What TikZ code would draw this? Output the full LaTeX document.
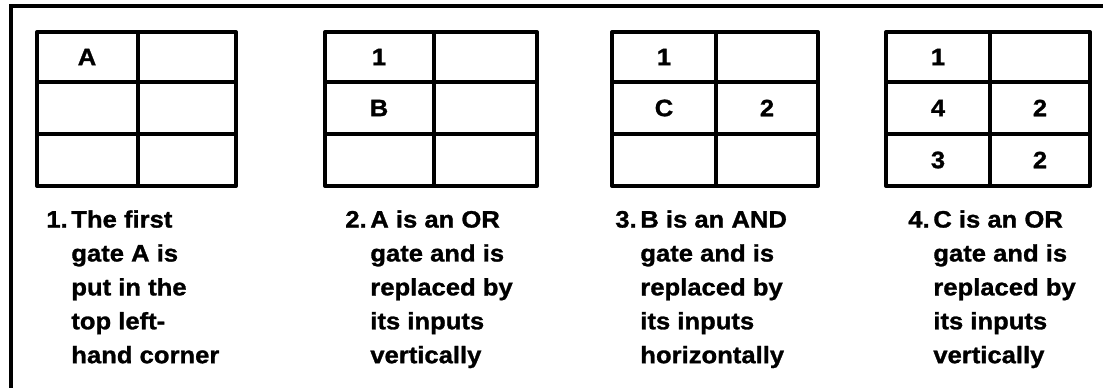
\documentclass[tikz,border=0pt]{standalone}
\usepackage{fontspec}
\setmainfont{Liberation Sans}[FakeStretch=1.08, BoldFeatures={FakeBold=1.2}]
\usetikzlibrary{positioning}
\tikzset{
  frame/.style ={draw=black, line width=2.2pt},
  tbl/.style   ={draw=black, line width=2.3pt, line join=round},
  entry/.style ={inner sep=0pt, font=\bfseries\fontsize{13.5}{16}\selectfont},
  caption/.style={inner sep=0pt, anchor=north west, align=left,
                  font=\bfseries\fontsize{13.5}{19.3}\selectfont},
}
% hanging number in front of the captions
\newcommand{\stepno}[1]{\makebox[0.5cm][l]{#1}}
\newcommand{\stepin}{\hspace*{0.5cm}}

\begin{document}
\begin{tikzpicture}[x=0.02cm,y=-0.02cm]
\clip (0,0) rectangle (1103,387);
% --- open outer frame ---
\draw[frame] (11,400) -- (11,6) -- (1110,6);
% --- the four 2x3 tables ---
\foreach \xl/\xm/\xr in {37/138/236, 325/434/537, 612/716/818, 886/990/1090} {
  \draw[tbl] (\xl,32) rectangle (\xr,186);
  \draw[tbl] (\xm,32) -- (\xm,186) (\xl,82) -- (\xr,82) (\xl,134) -- (\xr,134);
}
% --- table 1 ---
\node[entry] (t1a) at (87,57) {A};
% --- table 2 ---
\node[entry] (t2a) at (379,57)  {1};
\node[entry] (t2b) at (379,108) {B};
% --- table 3 ---
\node[entry] (t3a) at (664,57)  {1};
\node[entry] (t3b) at (664,108) {C};
\node[entry] (t3c) at (767,108) {2};
% --- table 4 ---
\node[entry] (t4a) at (938,57)  {1};
\node[entry] (t4b) at (938,108) {4};
\node[entry] (t4c) at (1040,108) {2};
\node[entry] (t4d) at (938,160) {3};
\node[entry] (t4e) at (1040,160) {2};
% --- captions ---
\node[caption] (c1) at (46,210) {\stepno{1.}The first\\\stepin gate A is\\\stepin put in the\\\stepin top left-\\\stepin hand corner};
\node[caption] (c2) at (345,210) {\stepno{2.}A is an OR\\\stepin gate and is\\\stepin replaced by\\\stepin its inputs\\\stepin vertically};
\node[caption] (c3) at (615,210) {\stepno{3.}B is an AND\\\stepin gate and is\\\stepin replaced by\\\stepin its inputs\\\stepin horizontally};
\node[caption] (c4) at (908,210) {\stepno{4.}C is an OR\\\stepin gate and is\\\stepin replaced by\\\stepin its inputs\\\stepin vertically};
\end{tikzpicture}
\end{document}
